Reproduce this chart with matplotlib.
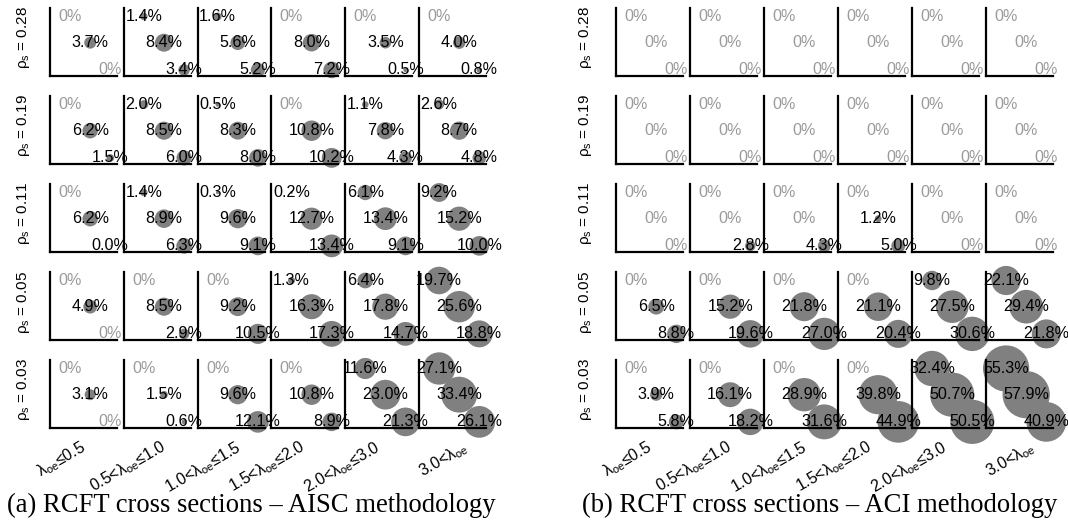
import numpy as np
import matplotlib
matplotlib.use('Agg')
import matplotlib.pyplot as plt

plt.rcParams['font.family'] = ['Liberation Sans', 'DejaVu Sans']
plt.rcParams['mathtext.fontset'] = 'custom'
plt.rcParams['mathtext.rm'] = 'Liberation Sans'
plt.rcParams['mathtext.it'] = 'Liberation Sans:italic'

# ---------------- data ----------------
rho_labels = ['0.28', '0.19', '0.11', '0.05', '0.03']
lambda_labels = [r'$\mathregular{\lambda_{oe}}$≤0.5',
                 r'0.5<$\mathregular{\lambda_{oe}}$≤1.0',
                 r'1.0<$\mathregular{\lambda_{oe}}$≤1.5',
                 r'1.5<$\mathregular{\lambda_{oe}}$≤2.0',
                 r'2.0<$\mathregular{\lambda_{oe}}$≤3.0',
                 r'3.0<$\mathregular{\lambda_{oe}}$']
captions = ['(a) RCFT cross sections – AISC methodology',
            '(b) RCFT cross sections – ACI methodology']

# AISC methodology (rows: rho_s, cols: lambda_oe)
aisc_top = [[0, 1.4, 1.6, 0, 0, 0],
            [0, 2.0, 0.5, 0, 1.1, 2.6],
            [0, 1.4, 0.3, 0.2, 6.1, 9.2],
            [0, 0, 0, 1.3, 6.4, 19.7],
            [0, 0, 0, 0, 11.6, 27.1]]
aisc_mid = [[3.7, 8.4, 5.6, 8.0, 3.5, 4.0],
            [6.2, 8.5, 8.3, 10.8, 7.8, 8.7],
            [6.2, 8.9, 9.6, 12.7, 13.4, 15.2],
            [4.9, 8.5, 9.2, 16.3, 17.8, 25.6],
            [3.1, 1.5, 9.6, 10.8, 23.0, 33.4]]
aisc_bot = [[0, 3.4, 5.2, 7.2, 0.5, 0.8],
            [1.5, 6.0, 8.0, 10.2, 4.3, 4.8],
            [0.04, 6.3, 9.1, 13.4, 9.1, 10.0],
            [0, 2.9, 10.5, 17.3, 14.7, 18.8],
            [0, 0.6, 12.1, 8.9, 21.3, 26.1]]

# ACI methodology
aci_top = [[0, 0, 0, 0, 0, 0],
           [0, 0, 0, 0, 0, 0],
           [0, 0, 0, 0, 0, 0],
           [0, 0, 0, 0, 9.8, 22.1],
           [0, 0, 0, 0, 32.4, 55.3]]
aci_mid = [[0, 0, 0, 0, 0, 0],
           [0, 0, 0, 0, 0, 0],
           [0, 0, 0, 1.2, 0, 0],
           [6.5, 15.2, 21.8, 21.1, 27.5, 29.4],
           [3.9, 16.1, 28.9, 39.8, 50.7, 57.9]]
aci_bot = [[0, 0, 0, 0, 0, 0],
           [0, 0, 0, 0, 0, 0],
           [0, 2.8, 4.3, 5.0, 0, 0],
           [8.8, 19.6, 27.0, 20.4, 30.6, 21.8],
           [5.8, 18.2, 31.6, 44.9, 50.5, 40.9]]

panels = [(aisc_top, aisc_mid, aisc_bot), (aci_top, aci_mid, aci_bot)]

# ---------------- layout ----------------
W, H = 1068, 523
DPI = 100
fig = plt.figure(figsize=(W / DPI, H / DPI), dpi=DPI)

panel_left = [50, 616]
col_pitch = [73.8, 74.0]
cell_w, cell_h = 67, 68
row_top0, row_pitch = 8, 88
rowlab_x = [23.5, 585.5]
collab_dx = [37, 43, 44.5, 35, 36, 50]
caption_x = [251, 820]

positions = [(0.3, 0.875), (0.6, 0.49), (0.9, 0.09)]
circle_color = '#808080'
zero_color = '#9a9a9a'
size_scale = 20.0  # points^2 per percent
pct_fs = 11.6

def px2fig(x, y):
    return x / W, 1 - y / H

for p, (tops, mids, bots) in enumerate(panels):
    for i in range(len(rho_labels)):
        y_top = row_top0 + row_pitch * i
        for j in range(len(lambda_labels)):
            x0 = panel_left[p] + col_pitch[p] * j
            fx, fy = px2fig(x0, y_top + cell_h)
            ax = fig.add_axes([fx, fy, cell_w / W, cell_h / H])
            ax.set_xlim(0, 1)
            ax.set_ylim(0, 1)
            for s in ['top', 'right']:
                ax.spines[s].set_visible(False)
            for s in ['left', 'bottom']:
                ax.spines[s].set_linewidth(1.6)
                ax.spines[s].set_color('black')
            ax.set_xticks([])
            ax.set_yticks([])
            ax.patch.set_alpha(0)
            vals = [tops[i][j], mids[i][j], bots[i][j]]
            for (px, py), v in zip(positions, vals):
                if v > 0:
                    ax.scatter([px], [py], s=size_scale * v, color=circle_color,
                               edgecolors='none', clip_on=False, zorder=2)
                    ax.text(px, py, f'{v:.1f}%', ha='center', va='center',
                            fontsize=pct_fs, color='black', zorder=3, clip_on=False)
                else:
                    ax.text(px, py, '0%', ha='center', va='center',
                            fontsize=pct_fs, color=zero_color, zorder=3, clip_on=False)
        # row label
        fx, fy = px2fig(rowlab_x[p], y_top + cell_h / 2 - 4)
        fig.text(fx, fy, r'$\mathregular{\rho_s}$ = ' + rho_labels[i], rotation=90,
                 ha='center', va='center', fontsize=11)
    # column labels
    y_last = row_top0 + row_pitch * (len(rho_labels) - 1) + cell_h
    for j, lab in enumerate(lambda_labels):
        x0 = panel_left[p] + col_pitch[p] * j + collab_dx[j]
        fx, fy = px2fig(x0, y_last + 22)
        fig.text(fx, fy, lab, rotation=30, rotation_mode='anchor',
                 ha='right', va='baseline', fontsize=11.5)
    fx, fy = px2fig(caption_x[p], 505)
    fig.text(fx, fy, captions[p], ha='center', va='center', fontsize=19.2,
             family=['Liberation Serif', 'DejaVu Serif'])

fig.savefig('out.png', dpi=DPI)
